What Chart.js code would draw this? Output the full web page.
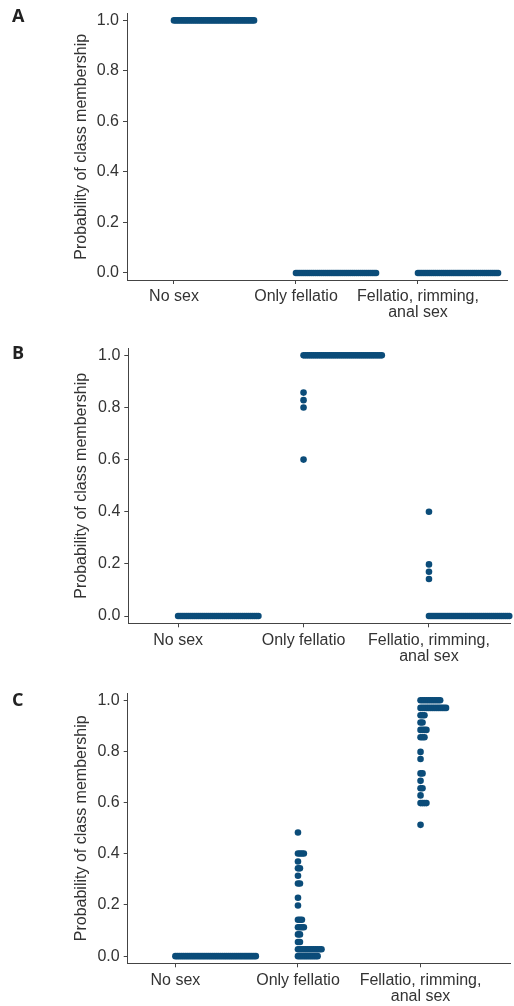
<!DOCTYPE html>
<html>
<head>
<meta charset="utf-8">
<script src="https://cdn.jsdelivr.net/npm/chart.js@4.4.1/dist/chart.umd.min.js"></script>
<style>
  html, body { margin: 0; padding: 0; background: #fff; }
  body { width: 514px; height: 1006px; position: relative; overflow: hidden; }
  .panel { position: absolute; left: 0; width: 514px; }
  .tag { position: absolute; left: 12px; font: 700 18px "Open Sans", sans-serif; color: #222; line-height: 18px; }
</style>
</head>
<body>
<div class="panel" id="pA" style="top:0;height:330px"><canvas id="cA"></canvas><div class="tag" style="top:6px">A</div></div>
<div class="panel" id="pB" style="top:330px;height:345px"><canvas id="cB"></canvas><div class="tag" style="top:13px">B</div></div>
<div class="panel" id="pC" style="top:660px;height:346px"><canvas id="cC"></canvas><div class="tag" style="top:30px">C</div></div>
<script>
// categories and ticks
const categories = ['No sex', 'Only fellatio', ['Fellatio, rimming,', 'anal sex']];
const yTicks = [0, 0.2, 0.4, 0.6, 0.8, 1.0];

// probability values per category, and how many people share each value (stack size)
const panelAValues = [[1.0], [0.0], [0.0]];
const panelACounts = [[42], [42], [42]];

const panelBValues = [[0.0], [1.0, 0.857, 0.828, 0.80, 0.60], [0.40, 0.198, 0.17, 0.142, 0.0]];
const panelBCounts = [[41], [40, 1, 1, 1, 1], [1, 1, 1, 1, 41]];

const panelCValues = [
    [0.0],
    [0.483, 0.401, 0.37, 0.343, 0.314, 0.284, 0.228, 0.198, 0.142, 0.113, 0.085, 0.055, 0.027, 0.0],
    [1.0, 0.97, 0.941, 0.913, 0.884, 0.855, 0.798, 0.77, 0.714, 0.685, 0.656, 0.628, 0.598, 0.513]
];
const panelCCounts = [
    [42],
    [1, 4, 1, 2, 1, 2, 1, 1, 3, 4, 2, 2, 13, 11],
    [11, 14, 3, 2, 4, 3, 1, 1, 2, 1, 2, 1, 4, 1]
];

const dotColor = '#0b4c79';
const stackStep = 0.016; // horizontal spacing of stacked dots, in category units
const textColor = '#333';
const axisColor = '#444';

// stack dots to the right of the category centre (like geom_dotplot)
function buildPoints(values, counts) {
    const pts = [];
    values.forEach((catVals, ci) => {
        catVals.forEach((v, vi) => {
            for (let k = 0; k < counts[ci][vi]; k++) {
                pts.push({ x: ci + 1 + k * stackStep, y: v });
            }
        });
    });
    return pts;
}

function makePanel(canvasId, values, counts, lay) {
    const ctx = document.getElementById(canvasId);
    return new Chart(ctx, {
        type: 'scatter',
        data: {
            datasets: [{
                data: buildPoints(values, counts),
                backgroundColor: dotColor,
                borderWidth: 0,
                pointRadius: 3.3,
                pointHoverRadius: 3.3,
                clip: false,
            }],
        },
        options: {
            responsive: true,
            maintainAspectRatio: false,
            animation: false,
            events: [],
            layout: {
                padding: { left: 74, right: lay.right, top: lay.top, bottom: 0 },
            },
            plugins: {
                legend: { display: false },
                tooltip: { enabled: false },
            },
            scales: {
                x: {
                    type: 'linear',
                    min: lay.xMin,
                    max: lay.xMax,
                    afterBuildTicks: (s) => { s.ticks = [1, 2, 3].map(v => ({ value: v })); },
                    afterFit: (s) => { s.height = lay.xHeight; },
                    ticks: {
                        autoSkip: false,
                        maxRotation: 0,
                        padding: 5,
                        color: textColor,
                        font: { family: '"Liberation Sans", Arial, sans-serif', size: 16, lineHeight: 1.0 },
                        callback: (v) => categories[Math.round(v) - 1],
                    },
                    grid: { drawOnChartArea: false, drawTicks: true, tickLength: 4, color: axisColor },
                    border: { display: true, color: axisColor, width: 1 },
                },
                y: {
                    min: -0.028,
                    max: 1.027,
                    afterBuildTicks: (s) => { s.ticks = yTicks.map(v => ({ value: v })); },
                    afterFit: (s) => { s.width = lay.yWidth; },
                    ticks: {
                        padding: 4,
                        color: textColor,
                        font: { family: '"Liberation Sans", Arial, sans-serif', size: 16 },
                        callback: (v) => v.toFixed(1),
                    },
                    title: {
                        display: true,
                        text: 'Probability of class membership',
                        color: textColor,
                        padding: { top: 0, bottom: 0 },
                        font: { family: '"Liberation Sans", Arial, sans-serif', size: 16, lineHeight: 1.0 },
                    },
                    grid: { drawOnChartArea: false, drawTicks: true, tickLength: 4, color: axisColor },
                    border: { display: true, color: axisColor, width: 1 },
                },
            },
        },
    });
}

makePanel('cA', panelAValues, panelACounts,
    { top: 13, right: 7, yWidth: 53, xHeight: 50, xMin: 0.6148, xMax: 3.7295 });
makePanel('cB', panelBValues, panelBCounts,
    { top: 18.3, right: 2, yWidth: 54.3, xHeight: 51.7, xMin: 0.6027, xMax: 3.6516 });
makePanel('cC', panelCValues, panelCCounts,
    { top: 33.3, right: 1, yWidth: 53.7, xHeight: 42.7, xMin: 0.6107, xMax: 3.7356 });
</script>
</body>
</html>
